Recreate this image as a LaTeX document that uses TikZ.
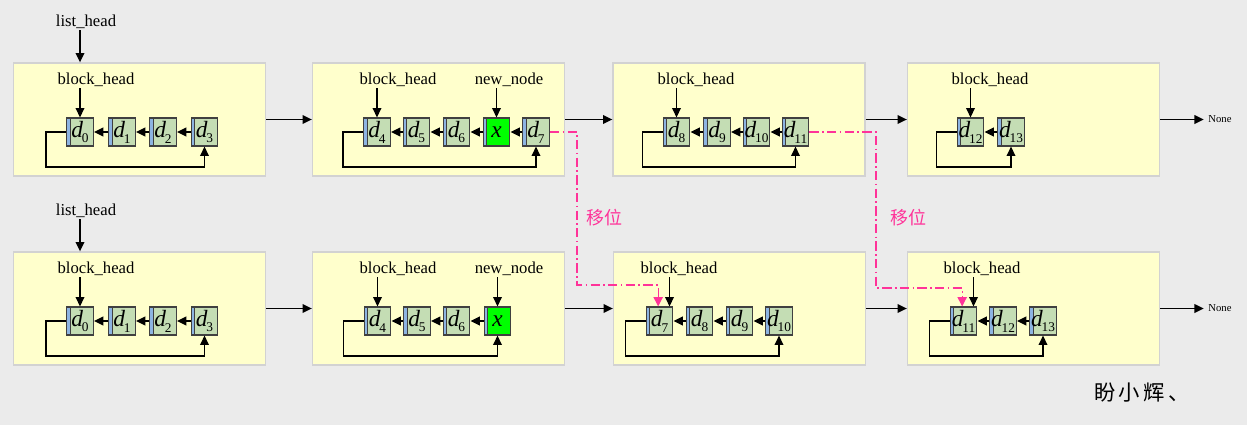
\documentclass[tikz,border=0pt]{standalone}
\usepackage{fontspec}
\setmainfont{Liberation Serif}
\newfontfamily\cjk{Noto Sans CJK SC}
\usepackage{xcolor}
\usepackage{tikz}
\usetikzlibrary{arrows.meta, positioning}

\definecolor{bggray}{HTML}{EBEBEB}
\definecolor{blockfill}{HTML}{FFFFCC}
\definecolor{blockline}{HTML}{D2D2D2}
\definecolor{cellfill}{HTML}{C4DDB4}
\definecolor{cellline}{HTML}{404040}
\definecolor{stripblue}{HTML}{8DB4E2}
\definecolor{shiftpink}{HTML}{FF3399}
\newcommand{\dn}[1]{\textit{d}\kern-0.8pt\raisebox{-0.55ex}{\fontsize{10}{10}\selectfont #1}}

\tikzset{
  block/.style={draw=blockline, fill=blockfill, line width=1pt, minimum width=189pt, minimum height=84.75pt, inner sep=0pt},
  cell/.style={draw=cellline, fill=cellfill, line width=0.9pt, minimum width=20pt, minimum height=21pt, inner sep=0pt,
    font=\fontsize{17.5}{17.5}\selectfont,
    path picture={\fill[stripblue] (path picture bounding box.south west) rectangle ([xshift=2.6pt]path picture bounding box.north west);
      \draw[cellline, line width=0.5pt] ([xshift=2.6pt]path picture bounding box.south west) -- ([xshift=2.6pt]path picture bounding box.north west);}},
  newcell/.style={cell, fill=green},
  tag/.style={font=\fontsize{12.5}{12.5}\selectfont, inner sep=1pt},
  link/.style={-{Triangle[length=7pt,width=6.5pt]}, line width=1.1pt},
  shiftline/.style={shiftpink, line width=0.9pt, dash pattern=on 7pt off 2.5pt on 1.2pt off 2.5pt, -{Triangle[length=7pt,width=7pt]}},
  shifttag/.style={text=shiftpink, font=\cjk\fontsize{13.5}{13.5}\selectfont},
}

\begin{document}
\begin{tikzpicture}[x=0.75pt, y=-0.75pt]
  \fill[bggray] (0,0) rectangle (1247,425);
  \useasboundingbox (0,0) rectangle (1247,425);

  % upper list
  \node[block] (t1) at (139.5,119.5) {};
  \node[block] (t2) at (438.5,119.5) {};
  \node[block] (t3) at (739,119.5) {};
  \node[block] (t4) at (1033.5,119.5) {};
  \node[font=\fontsize{8}{8}\selectfont] (none1) at (1220,119.5) {None};
  \draw[link] (t1) -- (t2);
  \draw[link] (t2) -- (t3);
  \draw[link] (t3) -- (t4);
  \draw[link] (t4) -- (none1);

  \node[tag] (lh1) at (86,22) {list\_head};

  \node[cell] (ta0) at (80,132) {\dn{0}};
  \node[cell] (ta1) at (122,132) {\dn{1}};
  \node[cell] (ta2) at (163,132) {\dn{2}};
  \node[cell] (ta3) at (204.5,132) {\dn{3}};
  \node[tag] (th1) at (96,80) {block\_head};
  \draw[link] (lh1.south -| ta0) -- (ta0 |- t1.north);
  \draw[link] (th1.south -| ta0) -- (ta0);
  \draw[link] (ta1) -- (ta0);
  \draw[link] (ta2) -- (ta1);
  \draw[link] (ta3) -- (ta2);
  \draw[link] (ta0.west) -- ++(-20,0) -- ++(0,35) -| (ta3.south);

  \node[cell] (tb4) at (377,132) {\dn{4}};
  \node[cell] (tb5) at (416.5,132) {\dn{5}};
  \node[cell] (tb6) at (456.5,132) {\dn{6}};
  \node[newcell] (tbx) at (496.5,132) {\textit{x}};
  \node[cell] (tb7) at (536,132) {\dn{7}};
  \node[tag] (th2) at (398,80) {block\_head};
  \node[tag] (tn2) at (509,80) {new\_node};
  \draw[link] (th2.south -| tb4) -- (tb4);
  \draw[link] (tn2.south -| tbx) -- (tbx);
  \draw[link] (tb5) -- (tb4);
  \draw[link] (tb6) -- (tb5);
  \draw[link] (tbx) -- (tb6);
  \draw[link] (tb7) -- (tbx);
  \draw[link] (tb4.west) -- ++(-20,0) -- ++(0,35) -| (tb7.south);

  \node[cell] (tc8) at (676.5,132) {\dn{8}};
  \node[cell] (tc9) at (717,132) {\dn{9}};
  \node[cell] (tc10) at (756.5,132) {\dn{10}};
  \node[cell] (tc11) at (795.5,132) {\dn{11}};
  \node[tag] (th3) at (696,80) {block\_head};
  \draw[link] (th3.south -| tc8) -- (tc8);
  \draw[link] (tc9) -- (tc8);
  \draw[link] (tc10) -- (tc9);
  \draw[link] (tc11) -- (tc10);
  \draw[link] (tc8.west) -- ++(-20,0) -- ++(0,35) -| (tc11.south);

  \node[cell] (td12) at (970.5,132) {\dn{12}};
  \node[cell] (td13) at (1011,132) {\dn{13}};
  \node[tag] (th4) at (990,80) {block\_head};
  \draw[link] (th4.south -| td12) -- (td12);
  \draw[link] (td13) -- (td12);
  \draw[link] (td12.west) -- ++(-20,0) -- ++(0,35) -| (td13.south);

  % lower list
  \node[block] (b1) at (139.5,308.5) {};
  \node[block] (b2) at (438.5,308.5) {};
  \node[block] (b3) at (739.5,308.5) {};
  \node[block] (b4) at (1033.5,308.5) {};
  \node[font=\fontsize{8}{8}\selectfont] (none2) at (1220,308.5) {None};
  \draw[link] (b1) -- (b2);
  \draw[link] (b2) -- (b3);
  \draw[link] (b3) -- (b4);
  \draw[link] (b4) -- (none2);

  \node[tag] (lh2) at (86,211) {list\_head};

  \node[cell] (ba0) at (80,321) {\dn{0}};
  \node[cell] (ba1) at (122,321) {\dn{1}};
  \node[cell] (ba2) at (163,321) {\dn{2}};
  \node[cell] (ba3) at (204.5,321) {\dn{3}};
  \node[tag] (bh1) at (96,269) {block\_head};
  \draw[link] (lh2.south -| ba0) -- (ba0 |- b1.north);
  \draw[link] (bh1.south -| ba0) -- (ba0);
  \draw[link] (ba1) -- (ba0);
  \draw[link] (ba2) -- (ba1);
  \draw[link] (ba3) -- (ba2);
  \draw[link] (ba0.west) -- ++(-20,0) -- ++(0,35) -| (ba3.south);

  \node[cell] (bb4) at (377.5,321) {\dn{4}};
  \node[cell] (bb5) at (417,321) {\dn{5}};
  \node[cell] (bb6) at (456.5,321) {\dn{6}};
  \node[newcell] (bbx) at (497.5,321) {\textit{x}};
  \node[tag] (bh2) at (398,269) {block\_head};
  \node[tag] (bn2) at (509,269) {new\_node};
  \draw[link] (bh2.south -| bb4) -- (bb4);
  \draw[link] (bn2.south -| bbx) -- (bbx);
  \draw[link] (bb5) -- (bb4);
  \draw[link] (bb6) -- (bb5);
  \draw[link] (bbx) -- (bb6);
  \draw[link] (bb4.west) -- ++(-20,0) -- ++(0,35) -| (bbx.south);

  \node[cell] (bc7) at (659.5,321) {\dn{7}};
  \node[cell] (bc8) at (699.5,321) {\dn{8}};
  \node[cell] (bc9) at (739.5,321) {\dn{9}};
  \node[cell] (bc10) at (779,321) {\dn{10}};
  \node[tag] (bh3) at (679,269) {block\_head};
  \draw[link] ([xshift=7.5pt]bh3.south -| bc7) -- ([xshift=7.5pt]bc7.north);
  \draw[link] (bc8) -- (bc7);
  \draw[link] (bc9) -- (bc8);
  \draw[link] (bc10) -- (bc9);
  \draw[link] (bc7.west) -- ++(-20,0) -- ++(0,35) -| (bc10.south);

  \node[cell] (bd11) at (963.5,321) {\dn{11}};
  \node[cell] (bd12) at (1003,321) {\dn{12}};
  \node[cell] (bd13) at (1043,321) {\dn{13}};
  \node[tag] (bh4) at (982,269) {block\_head};
  \draw[link] ([xshift=7.5pt]bh4.south -| bd11) -- ([xshift=7.5pt]bd11.north);
  \draw[link] (bd12) -- (bd11);
  \draw[link] (bd13) -- (bd12);
  \draw[link] (bd11.west) -- ++(-20,0) -- ++(0,35) -| (bd13.south);

  % shifted nodes
  \coordinate (m1) at (577,285);
  \coordinate (m2) at (876,288);
  \draw[shiftline] (tb7.east) -| (m1) -| ([xshift=-1pt]bc7.north);
  \draw[shiftline] (tc11.east) -| (m2) -| ([xshift=-1pt]bd11.north);
  \node[shifttag] (s1) at (604,218) {移位};
  \node[shifttag] (s2) at (908,218) {移位};

  \node[font=\cjk\fontsize{16}{16}\selectfont] (sig) at (1142,393) {盼\,小\,辉\,、};
\end{tikzpicture}
\end{document}
